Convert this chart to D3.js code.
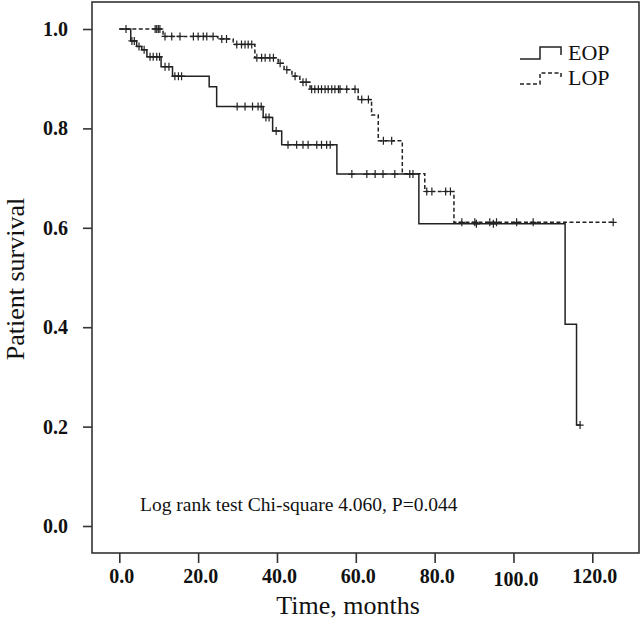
<!DOCTYPE html>
<html>
<head>
<meta charset="utf-8">
<script src="https://cdn.jsdelivr.net/npm/d3@7"></script>
<style>
  html, body { margin: 0; padding: 0; background: #fff; }
  svg { display: block; }
  text { font-family: "Liberation Serif", "Times New Roman", serif; fill: #111; }
</style>
</head>
<body>
<svg id="chart" width="644" height="624"></svg>
<script>
// ---- Data ----
const xTicks = [0, 20, 40, 60, 80, 100, 120];
const yTicks = [0, 0.2, 0.4, 0.6, 0.8, 1.0];

// EOP (solid): step times and survival after each step
const eopTimes = [0, 2.9, 4.4, 5.7, 7.0, 10.6, 13.5, 22.8, 24.7, 36.5, 38.9, 41.2, 55.2, 76.0, 113.1, 116.0];
const eopSurv  = [1.0, 0.976, 0.965, 0.958, 0.944, 0.924, 0.905, 0.884, 0.844, 0.822, 0.795, 0.767, 0.708, 0.608, 0.406, 0.203];
const eopEnd = 116.9;
const eopCensored = [1.7, 3.2, 3.8, 5.0, 6.3, 7.8, 8.6, 9.5, 10.2, 11.6, 12.6, 14.1, 15.0, 15.8,
  29.9, 31.9, 33.8, 35.2, 36.0, 37.2, 38.0, 39.8, 42.8, 45.0, 46.6, 47.9, 50.1, 51.3, 52.6, 53.5,
  59.0, 62.8, 64.9, 66.9, 69.9, 73.7, 74.5, 90.6, 94.9, 116.9];

// LOP (dashed)
const lopTimes = [0, 11.1, 25.0, 28.9, 34.4, 40.3, 41.8, 43.8, 45.8, 48.4, 60.6, 64.0, 65.7, 71.8, 77.5, 84.9];
const lopSurv  = [1.0, 0.985, 0.980, 0.969, 0.942, 0.931, 0.918, 0.905, 0.893, 0.879, 0.858, 0.827, 0.775, 0.709, 0.673, 0.611];
const lopEnd = 125.3;
const lopCensored = [9.1, 9.5, 9.9, 10.3, 11.6, 13.3, 15.4, 18.8, 20.0, 21.3, 22.2, 23.8, 26.0, 27.2,
  29.8, 31.0, 31.9, 32.7, 33.6, 34.9, 36.1, 37.0, 38.2, 39.1, 40.8, 42.5, 44.6, 46.6, 47.4,
  48.8, 49.6, 50.5, 51.3, 52.2, 53.0, 53.9, 54.7, 55.6, 56.0, 57.7, 59.8, 61.5, 63.2, 67.0, 69.1,
  78.0, 79.3, 82.8, 84.0, 86.9, 90.2, 94.0, 95.7, 100.8, 105.0, 125.3];

const seriesNames = ["EOP", "LOP"];
const annotation = "Log rank test Chi-square 4.060, P=0.044";
const xTitle = "Time, months";
const yTitle = "Patient survival";

// ---- Layout ----
const svg = d3.select("#chart");
const frame = { left: 92, top: 2, right: 639, bottom: 553 };
const x = d3.scaleLinear().domain([0, 120]).range([119.3, 592.3]);
const y = d3.scaleLinear().domain([0, 1]).range([526, 29]);
const lineColor = "#222";

// frame
svg.append("rect")
  .attr("x", frame.left).attr("y", frame.top)
  .attr("width", frame.right - frame.left).attr("height", frame.bottom - frame.top)
  .attr("fill", "none").attr("stroke", "#333").attr("stroke-width", 1.6);

// y axis
const yAxis = svg.append("g").attr("transform", `translate(${frame.left},0)`)
  .call(d3.axisLeft(y).tickValues(yTicks).tickSize(9).tickPadding(15).tickFormat(d3.format(".1f")));
yAxis.select(".domain").remove();
yAxis.selectAll("line").attr("stroke", "#333").attr("stroke-width", 1.6);
yAxis.selectAll("text").attr("font-size", 20).attr("font-weight", "bold")
  .attr("font-family", "'Liberation Serif', serif").attr("fill", "#111");

// x axis
const xAxis = svg.append("g").attr("transform", `translate(0,${frame.bottom})`)
  .call(d3.axisBottom(x).tickValues(xTicks).tickSize(10).tickPadding(6).tickFormat(d3.format(".1f")));
xAxis.select(".domain").remove();
xAxis.selectAll("line").attr("stroke", "#333").attr("stroke-width", 1.6);
xAxis.selectAll("text").attr("font-size", 20).attr("font-weight", "bold")
  .attr("font-family", "'Liberation Serif', serif").attr("fill", "#111")
  .attr("dx", 2)
  .attr("dy", d => d === 100 ? "0.86em" : "0.71em");

// axis titles
svg.append("text").attr("x", 348).attr("y", 614).attr("text-anchor", "middle")
  .attr("font-size", 26).text(xTitle);
svg.append("text").attr("transform", "translate(24,279) rotate(-90)").attr("text-anchor", "middle")
  .attr("font-size", 26).text(yTitle);

// curves
const line = d3.line().x(d => x(d[0])).y(d => y(d[1])).curve(d3.curveStepAfter);
function survAt(times, surv, t) {
  let s = surv[0];
  for (let i = 0; i < times.length; i++) if (times[i] <= t) s = surv[i];
  return s;
}
function drawSeries(times, surv, end, censored, dash) {
  const pts = times.map((t, i) => [t, surv[i]]);
  pts.push([end, surv[surv.length - 1]]);
  const g = svg.append("g");
  g.append("path").attr("d", line(pts)).attr("fill", "none")
    .attr("stroke", lineColor).attr("stroke-width", 1.5)
    .attr("stroke-dasharray", dash ? "4,2.5" : null);
  g.selectAll("path.c").data(censored).enter().append("path").attr("class", "c")
    .attr("d", t => {
      const cx = x(t), cy = y(survAt(times, surv, t));
      return `M${cx},${cy - 4}V${cy + 4}M${cx - 3.5},${cy}H${cx + 3.5}`;
    })
    .attr("stroke", lineColor).attr("stroke-width", 1.2).attr("fill", "none");
}
drawSeries(lopTimes, lopSurv, lopEnd, lopCensored, true);
drawSeries(eopTimes, eopSurv, eopEnd, eopCensored, false);

// legend
const legend = svg.append("g");
[[59, 47, 55, false], [84, 73, 79, true]].forEach(([yb, yt, ye, dash], i) => {
  legend.append("path")
    .attr("d", `M520,${yb}H540V${yt}H561V${ye}`)
    .attr("fill", "none").attr("stroke", lineColor).attr("stroke-width", 1.5)
    .attr("stroke-dasharray", dash ? "4,2.5" : null);
  legend.append("text").attr("x", 568).attr("y", yb + 1).attr("font-size", 22).text(seriesNames[i]);
});

// annotation
svg.append("text").attr("x", 140).attr("y", 511).attr("font-size", 19.5).text(annotation);
</script>
</body>
</html>
